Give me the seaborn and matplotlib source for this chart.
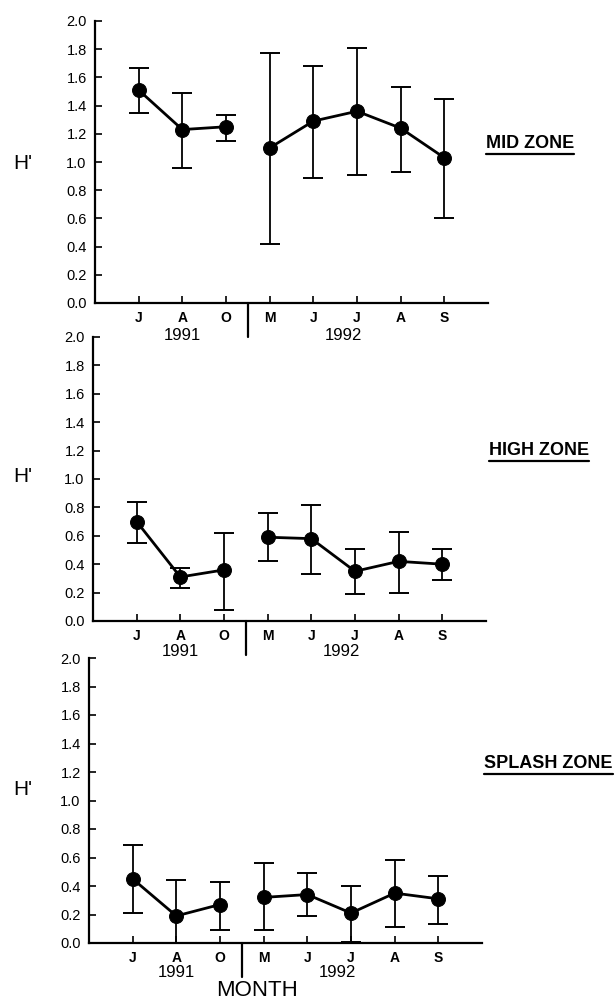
import numpy as np
import pandas as pd
import matplotlib
matplotlib.use("Agg")
import matplotlib.pyplot as plt
import matplotlib.transforms as mtransforms
from matplotlib.lines import Line2D
import seaborn as sns

# ---------------- data ----------------
months = ["J", "A", "O", "M", "J", "J", "A", "S"]
years = ["1991", "1991", "1991", "1992", "1992", "1992", "1992", "1992"]
zones = ["MID ZONE", "HIGH ZONE", "SPLASH ZONE"]

mid_mean = [1.51, 1.23, 1.25, 1.10, 1.29, 1.36, 1.24, 1.03]
mid_low = [1.35, 0.96, 1.15, 0.42, 0.89, 0.91, 0.93, 0.60]
mid_high = [1.67, 1.49, 1.33, 1.77, 1.68, 1.81, 1.53, 1.45]

high_mean = [0.70, 0.31, 0.36, 0.59, 0.58, 0.35, 0.42, 0.40]
high_low = [0.55, 0.23, 0.08, 0.42, 0.33, 0.19, 0.20, 0.29]
high_high = [0.84, 0.37, 0.62, 0.76, 0.82, 0.51, 0.63, 0.51]

splash_mean = [0.45, 0.19, 0.27, 0.32, 0.34, 0.21, 0.35, 0.31]
splash_low = [0.21, 0.00, 0.09, 0.09, 0.19, 0.01, 0.11, 0.13]
splash_high = [0.69, 0.44, 0.43, 0.56, 0.49, 0.40, 0.58, 0.47]

y_ticks = [0.0, 0.2, 0.4, 0.6, 0.8, 1.0, 1.2, 1.4, 1.6, 1.8, 2.0]

series = [
    (mid_mean, mid_low, mid_high),
    (high_mean, high_low, high_high),
    (splash_mean, splash_low, splash_high),
]

# ---------------- style ----------------
sns.set_style("ticks")
plt.rcParams["font.family"] = ["Liberation Sans", "DejaVu Sans"]
plt.rcParams["text.color"] = "black"
plt.rcParams["axes.labelcolor"] = "black"
plt.rcParams["xtick.color"] = "black"
plt.rcParams["ytick.color"] = "black"
plt.rcParams["axes.edgecolor"] = "black"

fig = plt.figure(figsize=(6.16, 10.02), dpi=100)
W, H = 616.0, 1002.0

rects = [
    [95 / W, (H - 303) / H, 393 / W, 282 / H],
    [93 / W, (H - 621) / H, 393 / W, 284 / H],
    [89 / W, (H - 943) / H, 393 / W, 285 / H],
]
hprime_y = [0.99, 1.02, 1.08]
zone_y = [1.13, 1.20, 1.26]
zone_x = [486 / W, 489 / W, 484 / W]
year_y = [-0.117, -0.108, -0.102]

x = np.arange(len(months))
zone_texts = []

for i, (mean, low, high) in enumerate(series):
    ax = fig.add_axes(rects[i])
    ax.set_facecolor("none")
    df = pd.DataFrame({"x": x, "H": mean, "year": years})
    mean_a = np.array(mean)
    yerr = [mean_a - np.array(low), np.array(high) - mean_a]
    ax.errorbar(x, mean_a, yerr=yerr, fmt="none", ecolor="black",
                elinewidth=1.3, capsize=7.5, capthick=1.4, zorder=2)
    sns.lineplot(data=df, x="x", y="H", units="year", estimator=None,
                 color="black", linewidth=2.0, marker="o", markersize=10,
                 markeredgecolor="black", ax=ax, zorder=3, legend=False)

    ax.set_xlim(-1, 8)
    ax.set_ylim(0, 2.0)
    ax.set_yticks(y_ticks)
    ax.set_yticklabels([f"{v:.1f}" for v in y_ticks], fontsize=10.5)
    ax.set_xticks(x)
    ax.set_xticklabels(months, fontsize=10, fontweight="bold")
    ax.set_xlabel("")
    ax.set_ylabel("")
    ax.tick_params(direction="in", length=5, width=1.2, pad=6, colors="black")
    for s in ["top", "right"]:
        ax.spines[s].set_visible(False)
    for s in ["left", "bottom"]:
        ax.spines[s].set_linewidth(1.6)
        ax.spines[s].set_color("black")

    btrans = mtransforms.blended_transform_factory(ax.transData, ax.transAxes)
    ax.add_line(Line2D([2.5, 2.5], [0, -0.12], transform=btrans,
                       color="black", lw=1.6, clip_on=False))
    ax.text(1, year_y[i], "1991", transform=btrans, ha="center",
            va="center", fontsize=12)
    ax.text(4.7, year_y[i], "1992", transform=btrans, ha="center",
            va="center", fontsize=12)

    ftrans = mtransforms.blended_transform_factory(fig.transFigure, ax.transData)
    fig.text(23 / W, hprime_y[i], "H'", transform=ftrans, ha="center",
             va="center", fontsize=15)
    t = fig.text(zone_x[i], zone_y[i], zones[i], transform=ftrans,
                 ha="left", va="center", fontsize=13, fontweight="bold")
    zone_texts.append(t)

fig.text(257 / W, (H - 991) / H, "MONTH", ha="center", va="center",
         fontsize=16)

fig.canvas.draw()
renderer = fig.canvas.get_renderer()
for t in zone_texts:
    bb = t.get_window_extent(renderer=renderer)
    yline = (bb.y0 - 2) / H
    fig.add_artist(Line2D([bb.x0 / W, bb.x1 / W], [yline, yline],
                          transform=fig.transFigure, color="black", lw=1.6))

fig.savefig("out.png", dpi=100)
